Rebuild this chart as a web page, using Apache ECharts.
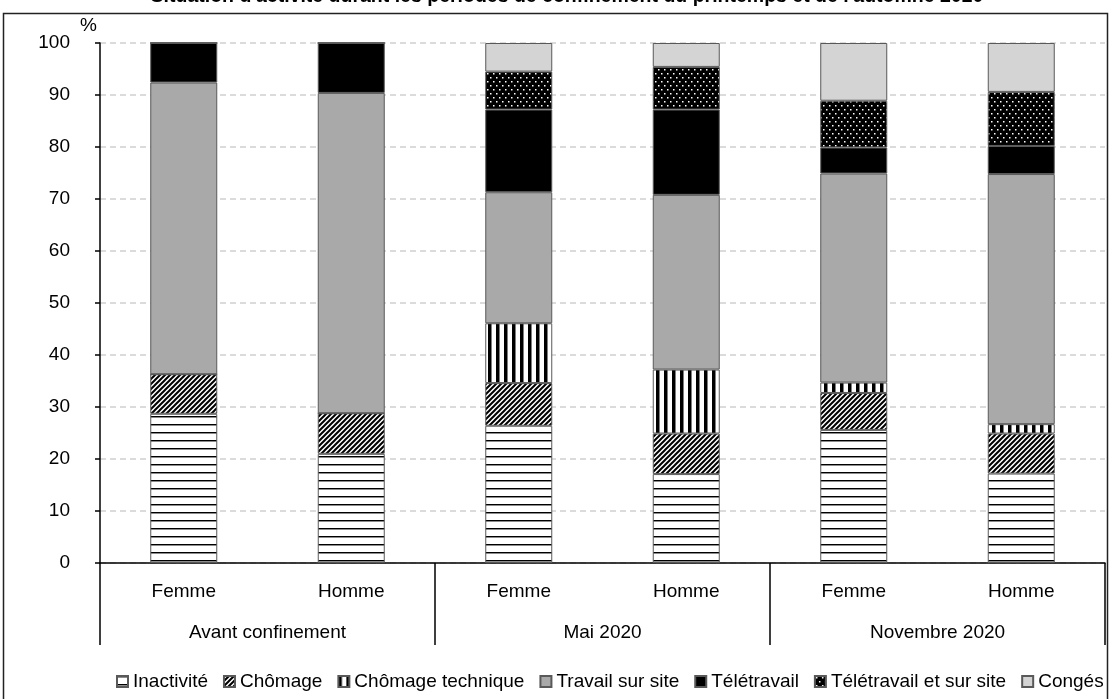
<!DOCTYPE html>
<html>
<head>
<meta charset="utf-8">
<script src="https://cdn.jsdelivr.net/npm/echarts@6/dist/echarts.min.js"></script>
<style>
html,body{margin:0;padding:0;background:#fff;}
#chart{width:1111px;height:699px;}
</style>
</head>
<body>
<div id="chart"></div>
<script>
// ---- Data ----
const categories = ["Femme", "Homme", "Femme", "Homme", "Femme", "Homme"];
const groups = ["Avant confinement", "Mai 2020", "Novembre 2020"];
const seriesNames = ["Inactivité", "Chômage", "Chômage technique", "Travail sur site", "Télétravail", "Télétravail et sur site", "Congés"];
const inactivite      = [28.7, 21.0, 26.4, 17.1, 25.6, 17.2];
const chomage         = [7.6, 7.8, 8.2, 7.8, 7.1, 7.7];
const chomageTech     = [0, 0, 11.5, 12.3, 2.0, 1.8];
const travailSite     = [56.1, 61.6, 25.2, 33.6, 40.2, 48.1];
const teletravail     = [7.6, 9.6, 15.9, 16.4, 5.0, 5.4];
const teleEtSite      = [0, 0, 7.3, 8.2, 9.0, 10.4];
const conges          = [0, 0, 5.5, 4.6, 11.1, 9.4];
const yTicks = [0, 10, 20, 30, 40, 50, 60, 70, 80, 90, 100];
const titleText = "Situation d'activité durant les périodes de confinement du printemps et de l'automne 2020";

// ---- Patterns ----
function tile(w, h, draw) {
  const c = document.createElement('canvas');
  c.width = w; c.height = h;
  const ctx = c.getContext('2d');
  draw(ctx, w, h);
  return { image: c, repeat: 'repeat' };
}
const patHoriz = tile(8, 8, (ctx, w, h) => {
  ctx.fillStyle = '#fff'; ctx.fillRect(0, 0, w, h);
  ctx.fillStyle = '#000'; ctx.fillRect(0, 0, w, 1);
  ctx.fillStyle = 'rgba(0,0,0,0.45)'; ctx.fillRect(0, 1, w, 1);
});
const patDiag = tile(5, 5, (ctx, w, h) => {
  ctx.fillStyle = '#fff'; ctx.fillRect(0, 0, w, h);
  ctx.strokeStyle = '#000'; ctx.lineWidth = 2;
  ctx.beginPath();
  ctx.moveTo(-1, h + 1); ctx.lineTo(w + 1, -1);
  ctx.moveTo(-1, 1); ctx.lineTo(1, -1);
  ctx.moveTo(w - 1, h + 1); ctx.lineTo(w + 1, h - 1);
  ctx.stroke();
});
const patVert = tile(8, 8, (ctx, w, h) => {
  ctx.fillStyle = '#fff'; ctx.fillRect(0, 0, w, h);
  ctx.fillStyle = '#000'; ctx.fillRect(0, 0, 3, h);
  ctx.fillStyle = 'rgba(0,0,0,0.5)'; ctx.fillRect(3, 0, 1, h);
});
const patDots = tile(6, 8, (ctx, w, h) => {
  ctx.fillStyle = '#000'; ctx.fillRect(0, 0, w, h);
  ctx.fillStyle = '#fff';
  ctx.fillRect(1, 1, 1.5, 1.5);
  ctx.fillRect(4, 5, 1.5, 1.5);
});

const fills = [patHoriz, patDiag, patVert, '#a9a9a9', '#000000', patDots, '#d4d4d4'];
const values = [inactivite, chomage, chomageTech, travailSite, teletravail, teleEtSite, conges];

const FONT = '"Liberation Sans", Arial, sans-serif';

const series = seriesNames.map((name, i) => ({
  name: name,
  type: 'bar',
  stack: 'total',
  barWidth: '40%',
  xAxisIndex: 0,
  data: values[i],
  itemStyle: { color: fills[i], borderColor: '#595959', borderWidth: 1 },
  emphasis: { disabled: true }
}));

const chart = echarts.init(document.getElementById('chart'), null, { renderer: 'canvas' });
chart.setOption({
  animation: false,
  backgroundColor: '#fff',
  textStyle: { fontFamily: FONT },
  grid: { left: 100, right: 6, top: 43, bottom: 136, containLabel: false },
  graphic: [
    {
      type: 'rect', silent: true, z: 100,
      shape: { x: 3.5, y: 13.5, width: 1104, height: 720 },
      style: { fill: 'none', stroke: '#222', lineWidth: 1.5 }
    },
    {
      type: 'text', silent: true, x: 567, y: -13,
      style: { text: titleText, font: 'bold 19.5px ' + FONT, fill: '#000', align: 'center', verticalAlign: 'top', textAlign: 'center', textVerticalAlign: 'top' }
    }
  ],
  legend: {
    bottom: 3,
    left: 111,
    width: 1100,
    itemWidth: 11,
    itemHeight: 11,
    itemGap: 15,
    icon: 'rect',
    selectedMode: false,
    textStyle: { fontSize: 19, color: '#000', fontFamily: FONT },
    data: seriesNames
  },
  xAxis: [
    {
      type: 'category',
      data: categories,
      position: 'bottom',
      axisLine: { show: true, lineStyle: { color: '#000', width: 1.5 } },
      axisTick: { show: false },
      axisLabel: { interval: 0, margin: 19, fontSize: 19, color: '#000', fontFamily: FONT }
    },
    {
      type: 'category',
      data: groups,
      position: 'bottom',
      offset: 0,
      axisLine: { show: false },
      axisTick: { show: true, length: 82, interval: 0, lineStyle: { color: '#000', width: 1.5 } },
      axisLabel: { interval: 0, margin: 60, fontSize: 19, color: '#000', fontFamily: FONT }
    }
  ],
  yAxis: {
    type: 'value',
    min: yTicks[0],
    max: yTicks[yTicks.length - 1],
    interval: 10,
    name: '%',
    nameLocation: 'end',
    nameGap: 8,
    nameTextStyle: { fontSize: 19, color: '#000', align: 'right', padding: [0, 3, 0, 0], fontFamily: FONT },
    axisLine: { show: true, lineStyle: { color: '#000', width: 1.5 } },
    axisTick: { show: true, length: 5, lineStyle: { color: '#000', width: 1.5 } },
    axisLabel: { margin: 30, fontSize: 19, color: '#000', fontFamily: FONT },
    splitLine: { show: true, lineStyle: { color: '#d0d0d0', width: 1.5, type: [6, 4] } }
  },
  series: series
});
</script>
</body>
</html>
